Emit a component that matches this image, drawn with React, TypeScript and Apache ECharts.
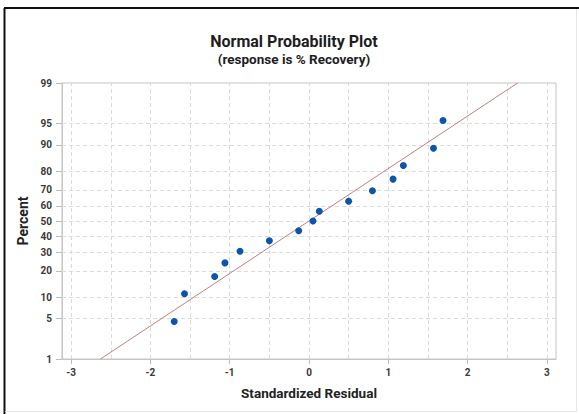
import React, { useEffect, useRef } from "react";
import * as echarts from "echarts";

// ---- data ----
const residuals = [-1.70, -1.57, -1.19, -1.06, -0.87, -0.50, -0.13, 0.05, 0.13, 0.50, 0.80, 1.06, 1.19, 1.57, 1.69];
const percents = [4.5, 11.0, 17.5, 24.0, 30.5, 37.0, 43.5, 50.0, 56.5, 63.0, 69.5, 76.0, 82.5, 89.0, 95.5];
const percentTicks = [1, 5, 10, 20, 30, 40, 50, 60, 70, 80, 90, 95, 99];
const residualTicks = [-3, -2, -1, 0, 1, 2, 3];
const residualGrid = [-3, -2.5, -2, -1.5, -1, -0.5, 0, 0.5, 1, 1.5, 2, 2.5, 3];
const fitResidual = [-2.63, 2.63];
const fitPercent = [1, 99];
const residualMin = -3.115;
const residualMax = 3.115;

// inverse standard normal CDF (Acklam)
function probit(p: number): number {
  const a = [-3.969683028665376e1, 2.209460984245205e2, -2.759285104469687e2, 1.38357751867269e2, -3.066479806614716e1, 2.506628277459239];
  const b = [-5.447609879822406e1, 1.615858368580409e2, -1.556989798598866e2, 6.680131188771972e1, -1.328068155288572e1];
  const c = [-7.784894002430293e-3, -3.223964580411365e-1, -2.400758277161838, -2.549732539343734, 4.374664141464968, 2.938163982698783];
  const d = [7.784695709041462e-3, 3.224671290700398e-1, 2.445134137142996, 3.754408661907416];
  const pl = 0.02425;
  let q: number, r: number;
  if (p < pl) {
    q = Math.sqrt(-2 * Math.log(p));
    return (((((c[0] * q + c[1]) * q + c[2]) * q + c[3]) * q + c[4]) * q + c[5]) / ((((d[0] * q + d[1]) * q + d[2]) * q + d[3]) * q + 1);
  }
  if (p > 1 - pl) {
    q = Math.sqrt(-2 * Math.log(1 - p));
    return -(((((c[0] * q + c[1]) * q + c[2]) * q + c[3]) * q + c[4]) * q + c[5]) / ((((d[0] * q + d[1]) * q + d[2]) * q + d[3]) * q + 1);
  }
  q = p - 0.5;
  r = q * q;
  return ((((((a[0] * r + a[1]) * r + a[2]) * r + a[3]) * r + a[4]) * r + a[5]) * q) / (((((b[0] * r + b[1]) * r + b[2]) * r + b[3]) * r + b[4]) * r + 1);
}
const zOf = (pct: number) => probit(pct / 100);

const FONT = "Roboto, 'Open Sans', sans-serif";

export default function App() {
  const ref = useRef<HTMLDivElement>(null);
  useEffect(() => {
    document.body.style.margin = "0";
    if (!ref.current) return;
    const chart = echarts.init(ref.current, undefined, { renderer: "svg" });
    const yTickVals = percentTicks.map(zOf);
    const labelFor = (v: number) => {
      for (let i = 0; i < percentTicks.length; i++) {
        if (Math.abs(yTickVals[i] - v) < 1e-6) return String(percentTicks[i]);
      }
      return "";
    };
    const gridLineStyle = { type: [4, 3] as any, color: "#dadada", width: 1 };
    chart.setOption({
      animation: false,
      backgroundColor: "#ffffff",
      grid: { left: 62, right: 23, top: 83, bottom: 55, show: true, borderColor: "#c4c4c4", borderWidth: 1, containLabel: false },
      graphic: [
        { type: "line", shape: { x1: 4.5, y1: 8, x2: 4.5, y2: 414 }, style: { stroke: "#111", lineWidth: 2 }, silent: true },
        { type: "line", shape: { x1: 4, y1: 8, x2: 579, y2: 8 }, style: { stroke: "#111", lineWidth: 2 }, silent: true },
        { type: "line", shape: { x1: 576.5, y1: 9, x2: 576.5, y2: 411 }, style: { stroke: "#e6e6e6", lineWidth: 1 }, silent: true },
        { type: "line", shape: { x1: 5, y1: 411.5, x2: 577, y2: 411.5 }, style: { stroke: "#e6e6e6", lineWidth: 1 }, silent: true },
        {
          type: "text", x: 294, y: 33,
          style: { text: "Normal Probability Plot", textAlign: "center", textVerticalAlign: "top", font: `bold 16px ${FONT}`, fill: "#1e1e1e" },
        },
        {
          type: "text", x: 294, y: 52,
          style: { text: "(response is % Recovery)", textAlign: "center", textVerticalAlign: "top", font: `bold 13.5px ${FONT}`, fill: "#1e1e1e" },
        },
      ],
      xAxis: {
        type: "value",
        min: residualMin,
        max: residualMax,
        name: "Standardized Residual",
        nameLocation: "middle",
        nameGap: 27,
        nameTextStyle: { fontFamily: FONT, fontSize: 13.5, fontWeight: "bold", color: "#222" },
        axisLine: { show: true, onZero: false, lineStyle: { color: "#c4c4c4" } },
        axisTick: { show: true, length: 5, customValues: residualTicks, lineStyle: { color: "#bdbdbd" } },
        axisLabel: { customValues: residualTicks, margin: 8, fontFamily: FONT, fontSize: 10, fontWeight: "bold", color: "#3a3a3a", formatter: (v: number) => String(v) },
        splitLine: { show: false },
      },
      yAxis: {
        type: "value",
        min: zOf(1),
        max: zOf(99),
        name: "Percent",
        nameLocation: "middle",
        nameRotate: 90,
        nameGap: 28,
        nameTextStyle: { fontFamily: FONT, fontSize: 14, fontWeight: "bold", color: "#222" },
        axisLine: { show: true, onZero: false, lineStyle: { color: "#c4c4c4" } },
        axisTick: { show: true, length: 6, customValues: yTickVals, lineStyle: { color: "#bdbdbd" } },
        axisLabel: { customValues: yTickVals, margin: 10, fontFamily: FONT, fontSize: 10, fontWeight: "bold", color: "#3a3a3a", formatter: labelFor },
        splitLine: { show: false },
      },
      series: [
        {
          type: "line",
          data: [],
          silent: true,
          z: 1,
          markLine: {
            z: 1,
            silent: true,
            symbol: ["none", "none"],
            label: { show: false },
            lineStyle: gridLineStyle,
            emphasis: { disabled: true },
            data: [
              ...residualGrid.map((v) => ({ xAxis: v })),
              ...yTickVals.map((v) => ({ yAxis: v })),
            ],
          },
        },
        {
          type: "line",
          data: fitResidual.map((x, i) => [x, zOf(fitPercent[i])]),
          symbol: "none",
          silent: true,
          z: 2,
          lineStyle: { color: "#c77c7e", width: 1 },
        },
        {
          type: "scatter",
          data: residuals.map((x, i) => [x, zOf(percents[i])]),
          symbol: "circle",
          symbolSize: 7,
          z: 3,
          itemStyle: { color: "#0b55ad", opacity: 1 },
        },
      ],
    });
    return () => chart.dispose();
  }, []);
  return <div ref={ref} style={{ width: 579, height: 414 }} />;
}
